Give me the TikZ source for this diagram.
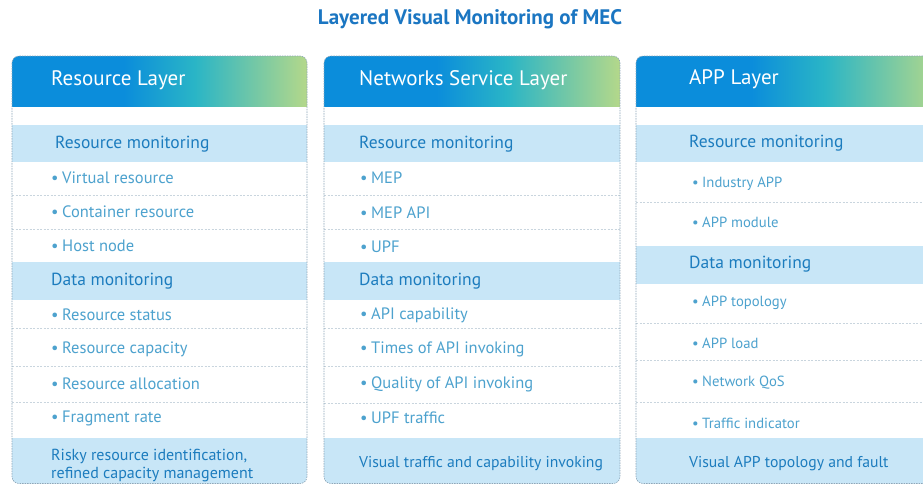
\documentclass[tikz,border=0pt]{standalone}
\usepackage{fontspec}
\setmainfont{PT Sans}
\definecolor{hblue}{HTML}{0B8DDB}
\definecolor{hteal}{HTML}{2AB5C6}
\definecolor{hgreen}{HTML}{B4D88A}
\definecolor{bandc}{HTML}{C8E6F7}
\definecolor{sectc}{HTML}{1C7CBE}
\definecolor{itemc}{HTML}{4DA2CE}
\definecolor{titlec}{HTML}{1B76C2}
\definecolor{borderc}{HTML}{8DA7B9}
\definecolor{sepc}{HTML}{C9D5DE}
\pgfdeclarehorizontalshading{hdrshade}{100bp}{color(0bp)=(hblue); color(25bp)=(hblue); color(44bp)=(hblue); color(56bp)=(hteal); color(75bp)=(hgreen); color(100bp)=(hgreen)}
\newcommand\ttlfont{\fontsize{21}{23}\selectfont\bfseries}
\newcommand\hdrfont{\fontsize{21}{23}\selectfont}
\newcommand\secfont{\fontsize{17.5}{20}\selectfont}
\newcommand\finfont{\fontsize{15.7}{18}\selectfont}
\newcommand\itmfont{\fontsize{16.5}{19}\selectfont}
\newcommand\itmfontc{\fontsize{14.7}{17}\selectfont}
\tikzset{
  hdrtxt/.style={anchor=west, inner sep=0pt, text=white, font=\hdrfont},
  sectxt/.style={anchor=west, inner sep=0pt, text=sectc, font=\secfont},
  fintxt/.style={anchor=west, inner sep=0pt, text=sectc, font=\finfont},
  itemtxt/.style={anchor=west, inner sep=0pt, text=itemc, font=\itmfont},
  itemtxtc/.style={anchor=west, inner sep=0pt, text=itemc, font=\itmfontc},
  bandfill/.style={fill=bandc},
  sepline/.style={draw=sepc, line width=0.6pt, dash pattern=on 2pt off 1.5pt},
  colborder/.style={draw=borderc, line width=0.6pt, dash pattern=on 1.5pt off 1pt, rounded corners=7pt},
}
\newcommand\bul[1]{\makebox[11pt][l]{•}#1}
\newcommand\bulc[1]{\makebox[10pt][l]{•}#1}
\begin{document}
\begin{tikzpicture}[x=1pt,y=-1pt]
\useasboundingbox (0,0) rectangle (923,485);
\clip (0,0) rectangle (923,485);
\fill[white] (0,0) rectangle (923,485);
\node[inner sep=0pt, text=titlec, font=\ttlfont] (title) at (470,19) {Layered Visual Monitoring of MEC};

% ---------- Column 1 ----------
\begin{scope}
\clip[rounded corners=7pt] (12,56) rectangle (307,483.5);
\fill[white] (12,56) rectangle (307,483.5);
\shade[shading=hdrshade] (12,56) rectangle (307,106);
\fill[bandfill] (12,125) rectangle (307,162);
\fill[bandfill] (12,262) rectangle (307,300);
\fill[bandfill] (12,438) rectangle (307,484);
\draw[sepline] (12,195) -- (307,195);
\draw[sepline] (12,229) -- (307,229);
\draw[sepline] (12,328) -- (307,328);
\draw[sepline] (12,366) -- (307,366);
\draw[sepline] (12,402) -- (307,402);
\end{scope}
\draw[colborder] (12,56) rectangle (307,483.5);
\node[hdrtxt] (h1) at (51,80) {Resource Layer};
\node[sectxt] (rm1) at (55,144) {Resource monitoring};
\node[itemtxt] (a1) at (51,178) {\bul{Virtual resource}};
\node[itemtxt] (a2) at (51,212) {\bul{Container resource}};
\node[itemtxt] (a3) at (51,246) {\bul{Host node}};
\node[sectxt] (dm1) at (51,281) {Data monitoring};
\node[itemtxt] (b1) at (51,315) {\bul{Resource status}};
\node[itemtxt] (b2) at (51,349) {\bul{Resource capacity}};
\node[itemtxt] (b3) at (51,384) {\bul{Resource allocation}};
\node[itemtxt] (b4) at (51,418) {\bul{Fragment rate}};
\node[fintxt, align=left, font=\fontsize{16}{18}\selectfont] (f1) at (51,466) {Risky resource identification,\\refined capacity management};

% ---------- Column 2 ----------
\begin{scope}
\clip[rounded corners=7pt] (324,56) rectangle (620,483.5);
\fill[white] (324,56) rectangle (620,483.5);
\shade[shading=hdrshade] (324,56) rectangle (620,106);
\fill[bandfill] (324,125) rectangle (620,162);
\fill[bandfill] (324,262) rectangle (620,300);
\fill[bandfill] (324,438) rectangle (620,484);
\draw[sepline] (324,195) -- (620,195);
\draw[sepline] (324,229) -- (620,229);
\draw[sepline] (324,328) -- (620,328);
\draw[sepline] (324,366) -- (620,366);
\draw[sepline] (324,403) -- (620,403);
\end{scope}
\draw[colborder] (324,56) rectangle (620,483.5);
\node[hdrtxt] (h2) at (359,80) {Networks Service Layer};
\node[sectxt] (rm2) at (359,144) {Resource monitoring};
\node[itemtxt] (c1) at (360,178) {\bul{MEP}};
\node[itemtxt] (c2) at (360,213) {\bul{MEP API}};
\node[itemtxt] (c3) at (360,247) {\bul{UPF}};
\node[sectxt] (dm2) at (359,281) {Data monitoring};
\node[itemtxt] (d1) at (360,315) {\bul{API capability}};
\node[itemtxt] (d2) at (360,349) {\bul{Times of API invoking}};
\node[itemtxt] (d3) at (360,384) {\bul{Quality of API invoking}};
\node[itemtxt] (d4) at (360,418) {\bul{UPF traffic}};
\node[fintxt] (f2) at (359,464) {Visual traffic and capability invoking};

% ---------- Column 3 ----------
\begin{scope}
\clip[rounded corners=7pt] (636,56) rectangle (940,483.5);
\fill[white] (636,56) rectangle (940,483.5);
\shade[shading=hdrshade] (636,56) rectangle (940,106);
\fill[bandfill] (636,125) rectangle (940,162);
\fill[bandfill] (636,246) rectangle (940,284);
\fill[bandfill] (636,438) rectangle (940,484);
\draw[sepline] (636,202) -- (940,202);
\draw[sepline] (636,323) -- (940,323);
\draw[sepline] (636,360) -- (940,360);
\draw[sepline] (636,402) -- (940,402);
\end{scope}
\draw[colborder] (636,56) rectangle (940,483.5);
\node[hdrtxt] (h3) at (689,79) {APP Layer};
\node[sectxt] (rm3) at (689,143) {Resource monitoring};
\node[itemtxtc] (e1) at (692,184) {\bulc{Industry APP}};
\node[itemtxtc] (e2) at (692,222) {\bulc{APP module}};
\node[sectxt] (dm3) at (689,264) {Data monitoring};
\node[itemtxtc] (g1) at (692,303) {\bulc{APP topology}};
\node[itemtxtc] (g2) at (692,343) {\bulc{APP load}};
\node[itemtxtc] (g3) at (692,383) {\bulc{Network QoS}};
\node[itemtxtc] (g4) at (692,423) {\bulc{Traffic indicator}};
\node[fintxt] (f3) at (689,464) {Visual APP topology and fault};
\end{tikzpicture}
\end{document}
